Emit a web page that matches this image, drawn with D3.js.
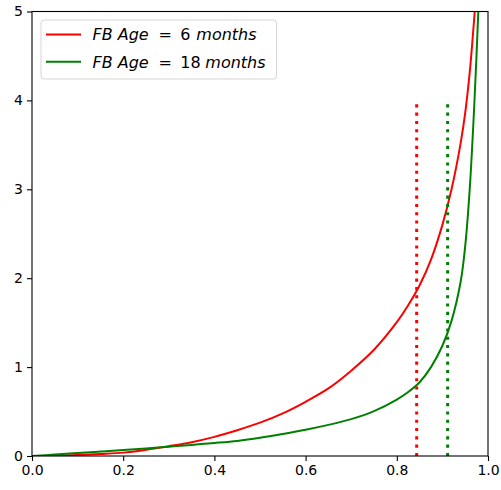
<!DOCTYPE html>
<html><head><meta charset="utf-8">
<script src="https://cdn.jsdelivr.net/npm/d3@7"></script>
<style>body{margin:0;background:#fff}svg{display:block}text{font-family:"DejaVu Sans",sans-serif}</style>
</head><body><svg id="c" width="501" height="490"></svg>
<script>
const xRed = [0,0.05,0.1,0.15,0.2,0.25,0.3,0.35,0.4,0.45,0.5,0.55,0.6,0.65,0.7,0.75,0.8,0.825,0.85,0.875,0.9,0.92,0.94,0.95,0.96,0.97,0.975];
const yRed = [0,0.003,0.011,0.023,0.038,0.07,0.11,0.155,0.215,0.29,0.375,0.48,0.61,0.76,0.96,1.195,1.505,1.695,1.92,2.21,2.6,3.0,3.52,3.86,4.32,4.94,5.3];
const xGreen = [0,0.05,0.1,0.15,0.2,0.25,0.3,0.35,0.4,0.45,0.5,0.55,0.6,0.65,0.7,0.75,0.8,0.825,0.85,0.875,0.9,0.92,0.94,0.95,0.96,0.97,0.98,0.985];
const yGreen = [0,0.016,0.033,0.05,0.067,0.085,0.105,0.125,0.146,0.17,0.205,0.248,0.295,0.35,0.415,0.505,0.635,0.72,0.83,1.0,1.24,1.52,1.96,2.36,3.01,3.96,5.16,5.9];
const vlineX = [0.8436, 0.9115];
const vlineTop = 4;
const labels = ["6", "18"];
const colors = ["#ff0000", "#008000"];
const xTicks = [0,0.2,0.4,0.6,0.8,1.0];
const yTicks = [0,1,2,3,4,5];

const L=32, R=488, T=11.5, B=456;
const svg=d3.select("#c");
const x=d3.scaleLinear().domain([0,1]).range([L,R]);
const y=d3.scaleLinear().domain([0,5]).range([B,T]);

svg.append("defs").append("clipPath").attr("id","clip").append("rect")
  .attr("x",L).attr("y",T).attr("width",R-L).attr("height",B-T);

const series=[xRed.map((v,i)=>[v,yRed[i]]), xGreen.map((v,i)=>[v,yGreen[i]])];
const line=d3.line().x(d=>x(d[0])).y(d=>y(d[1])).curve(d3.curveCatmullRom.alpha(0.5));
const g=svg.append("g").attr("clip-path","url(#clip)");
series.forEach((s,i)=>{
  g.append("path").attr("d",line(s)).attr("fill","none").attr("stroke",colors[i]).attr("stroke-width",2);
});
vlineX.forEach((v,i)=>{
  g.append("line").attr("x1",x(v)).attr("x2",x(v)).attr("y1",y(0)).attr("y2",y(vlineTop))
   .attr("stroke",colors[i]).attr("stroke-width",3).attr("stroke-dasharray","3.1 5.2");
});

const xa=svg.append("g").attr("transform",`translate(0,${B})`)
  .call(d3.axisBottom(x).tickValues(xTicks).tickFormat(d3.format(".1f")).tickSize(5).tickPadding(4));
const ya=svg.append("g").attr("transform",`translate(${L},0)`)
  .call(d3.axisLeft(y).tickValues(yTicks).tickFormat(d3.format("d")).tickSize(5).tickPadding(4));
[xa,ya].forEach(a=>{a.select(".domain").remove();
  a.attr("font-size",14).attr("font-family","DejaVu Sans");
  a.selectAll("text").attr("font-size",14).attr("fill","#000");
  a.selectAll("line").attr("stroke","#000").attr("stroke-width",1.1);});
svg.append("rect").attr("x",L).attr("y",T).attr("width",R-L).attr("height",B-T)
  .attr("fill","none").attr("stroke","#000").attr("stroke-width",1.1);

const lg=svg.append("g");
lg.append("rect").attr("x",41).attr("y",20).attr("width",235.5).attr("height",59)
  .attr("rx",3).attr("fill","#fff").attr("fill-opacity",0.8).attr("stroke","#d5d5d5").attr("stroke-width",1);
const eqX=158.5, numX=180.3, monX=[196.3,205.3];
labels.forEach((lab,i)=>{
  const yy=34.5+i*27.3;
  lg.append("line").attr("x1",46).attr("x2",81).attr("y1",yy).attr("y2",yy).attr("stroke",colors[i]).attr("stroke-width",2);
  const t=lg.append("text").attr("y",yy+5.7).attr("font-size",16).attr("fill","#000");
  t.append("tspan").attr("x",92.5).attr("font-style","italic").text("FB Age");
  t.append("tspan").attr("x",eqX).text("=");
  t.append("tspan").attr("x",numX).text(lab);
  t.append("tspan").attr("x",monX[i]).attr("font-style","italic").text("months");
});
</script></body></html>
